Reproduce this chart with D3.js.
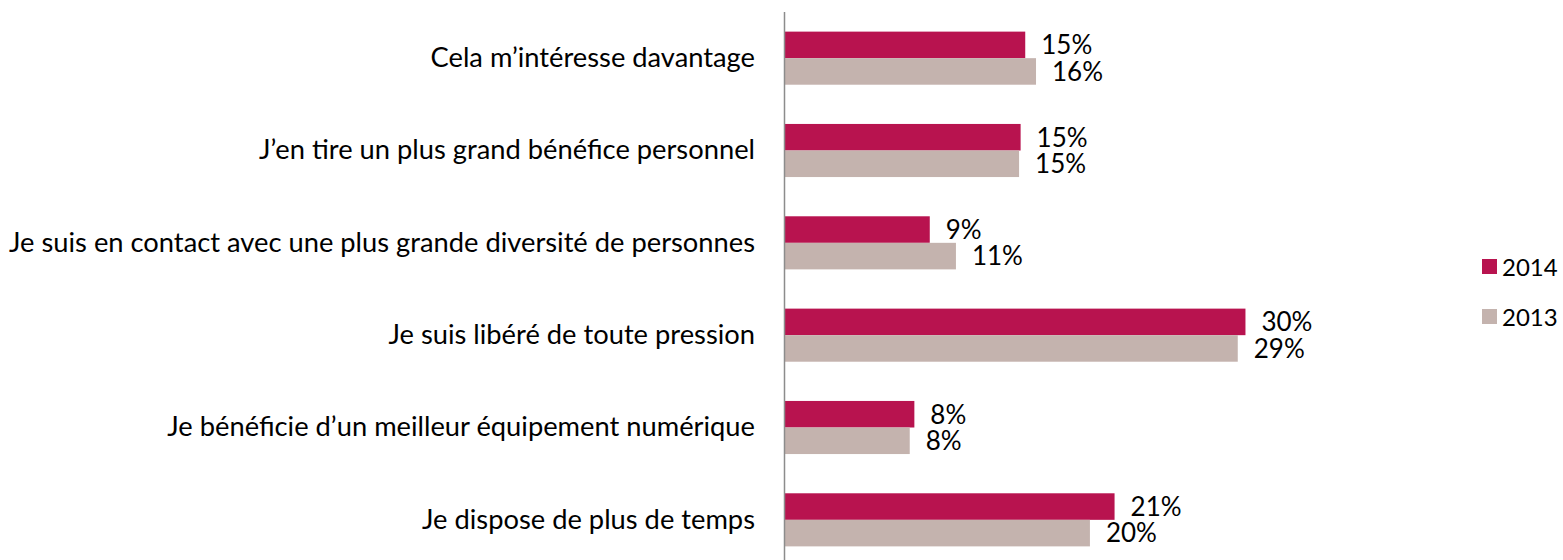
<!DOCTYPE html>
<html>
<head>
<meta charset="utf-8">
<script src="https://cdn.jsdelivr.net/npm/d3@7"></script>
<style>
  body { margin: 0; background: #fff; }
  text { font-family: Lato, "Open Sans", sans-serif; fill: #000; }
</style>
</head>
<body>
<div id="chart"></div>
<script>
const categories = [
  "Cela m’intéresse davantage",
  "J’en tire un plus grand bénéfice personnel",
  "Je suis en contact avec une plus grande diversité de personnes",
  "Je suis libéré de toute pression",
  "Je bénéficie d’un meilleur équipement numérique",
  "Je dispose de plus de temps"
];
const series = ["2014", "2013"];
const values2014 = [15.6, 15.3, 9.4, 29.9, 8.4, 21.4];
const values2013 = [16.3, 15.2, 11.1, 29.4, 8.1, 19.8];
const labels2014 = ["15%", "15%", "9%", "30%", "8%", "21%"];
const labels2013 = ["16%", "15%", "11%", "29%", "8%", "20%"];

const COLORS = ['#B8134F', '#C4B3AE'];
const width = 1563, height = 560;
const axisX = 784;

const data = categories.map((c, i) => ({
  name: c,
  vals: [
    { key: series[0], value: values2014[i], label: labels2014[i] },
    { key: series[1], value: values2013[i], label: labels2013[i] }
  ]
}));

const svg = d3.select('#chart').append('svg')
  .attr('width', width)
  .attr('height', height);

const x = d3.scaleLinear()
  .domain([0, 30])
  .range([axisX + 1, axisX + 1 + 30 * 15.4]);

const y = d3.scaleBand()
  .domain(categories)
  .range([12, 566])
  .paddingInner(0.425)
  .paddingOuter(0.2125);

const y1 = d3.scaleBand()
  .domain(series)
  .range([0, y.bandwidth()]);

const color = d3.scaleOrdinal(series, COLORS);

// bars
const groups = svg.append('g')
  .selectAll('g')
  .data(data)
  .enter().append('g')
    .attr('transform', d => 'translate(0,' + y(d.name) + ')');

groups.selectAll('rect')
  .data(d => d.vals)
  .enter().append('rect')
    .attr('x', x(0))
    .attr('y', d => y1(d.key))
    .attr('width', d => x(d.value) - x(0))
    .attr('height', y1.bandwidth())
    .attr('fill', d => color(d.key));

groups.selectAll('text')
  .data(d => d.vals)
  .enter().append('text')
    .attr('x', d => x(d.value) + 16)
    .attr('y', d => y1(d.key) + y1.bandwidth() / 2)
    .attr('dy', '0.36em')
    .style('font-size', '26px')
    .text(d => d.label);

// category axis
const axis = svg.append('g')
  .attr('transform', 'translate(' + axisX + ',0)')
  .call(d3.axisLeft(y).tickSize(0).tickPadding(29));

axis.select('.domain')
  .attr('d', 'M0.5,12V566')
  .attr('stroke', '#8c8c8c')
  .attr('stroke-width', 1.5);

axis.selectAll('text')
  .style('font-size', '27.3px')
  .style('font-family', 'Lato, "Open Sans", sans-serif')
  .attr('fill', '#000');

// legend
const legend = svg.append('g')
  .selectAll('g')
  .data(series)
  .enter().append('g')
    .attr('transform', (d, i) => 'translate(1482,' + (259 + i * 50) + ')');

legend.append('rect')
  .attr('width', 15)
  .attr('height', 15)
  .attr('fill', d => color(d));

legend.append('text')
  .attr('x', 20)
  .attr('y', 8)
  .attr('dy', '0.36em')
  .style('font-size', '24px')
  .text(d => d);
</script>
</body>
</html>
